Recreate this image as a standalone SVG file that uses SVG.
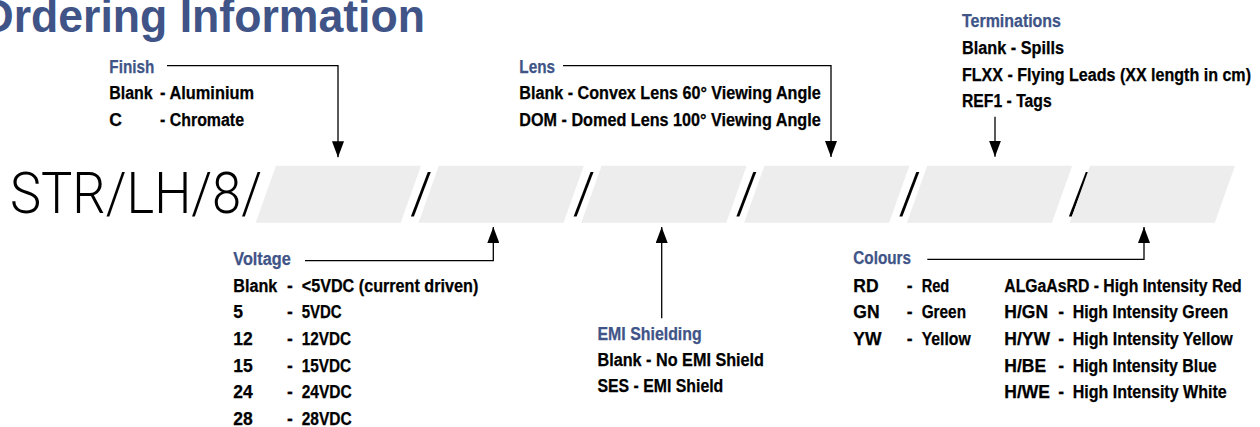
<svg xmlns="http://www.w3.org/2000/svg" width="1260" height="427" viewBox="0 0 1260 427">
<defs>
<style>
.t{font-family:"Liberation Sans",Arial,sans-serif;font-weight:bold;font-size:17.5px;fill:#000;stroke:#000;stroke-width:0.25}
.h{font-family:"Liberation Sans",Arial,sans-serif;font-weight:bold;font-size:17.5px;fill:#405487;stroke:#405487;stroke-width:0.25}
.title{font-family:"Liberation Sans",Arial,sans-serif;font-weight:bold;font-size:47px;fill:#405487}
.code{font-family:Roboto,"Liberation Sans",Arial,sans-serif;font-weight:300;font-size:57px;fill:#000}
.box{fill:#ededed}
.ln{fill:none;stroke:#000;stroke-width:1.3}
</style>
<marker id="ah" markerUnits="userSpaceOnUse" markerWidth="16" markerHeight="12" refX="16" refY="6" orient="auto">
<path d="M0,0 L16,6 L0,12 z" fill="#000"/>
</marker>
</defs>
<rect width="1260" height="427" fill="#fff"/>
<text class="title" x="-21" y="32" textLength="446" lengthAdjust="spacingAndGlyphs">Ordering Information</text>

<g id="code">
<text class="code" x="10" y="213" textLength="252" lengthAdjust="spacingAndGlyphs">STR/LH/8/</text>
<text class="code" x="410" y="213">/</text>
<text class="code" x="572.8" y="213">/</text>
<text class="code" x="735.6" y="213">/</text>
<text class="code" x="898.4" y="213">/</text>
<text class="code" x="1068" y="213">/</text>
</g>
<g id="slot1"><polygon class="box" points="276,165.7 421,165.7 400.7,222.7 255.7,222.7"/></g>
<g id="slot2"><polygon class="box" points="438.8,165.7 583.8,165.7 563.5,222.7 418.5,222.7"/></g>
<g id="slot3"><polygon class="box" points="601.6,165.7 746.6,165.7 726.3,222.7 581.3,222.7"/></g>
<g id="slot4"><polygon class="box" points="764.4,165.7 909.4,165.7 889.1,222.7 744.1,222.7"/></g>
<g id="slot5"><polygon class="box" points="927.2,165.7 1072.2,165.7 1051.9,222.7 906.9,222.7"/></g>
<g id="slot6"><polygon class="box" points="1090,165.7 1235,165.7 1214.7,222.7 1069.7,222.7"/></g>

<g id="connectors">
<polyline class="ln" points="167,65.7 338,65.7 338,157.3" marker-end="url(#ah)"/>
<polyline class="ln" points="563,65.7 831,65.7 831,157" marker-end="url(#ah)"/>
<polyline class="ln" points="995,116.7 995,156.7" marker-end="url(#ah)"/>
<polyline class="ln" points="305,260.7 493.3,260.7 493.3,227" marker-end="url(#ah)"/>
<polyline class="ln" points="661.7,318.3 661.7,227" marker-end="url(#ah)"/>
<polyline class="ln" points="927.3,259.3 1144,259.3 1144,227" marker-end="url(#ah)"/>
</g>

<g id="finish">
<text class="h" x="109.3" y="72.7" textLength="45" lengthAdjust="spacingAndGlyphs">Finish</text>
<text class="t" x="109.3" y="99.3" textLength="43.4" lengthAdjust="spacingAndGlyphs">Blank</text>
<text class="t" x="160" y="99.3" textLength="94" lengthAdjust="spacingAndGlyphs">- Aluminium</text>
<text class="t" x="109.3" y="126">C</text>
<text class="t" x="160" y="126" textLength="84" lengthAdjust="spacingAndGlyphs">- Chromate</text>
</g>

<g id="lens">
<text class="h" x="519.3" y="72.7" textLength="35.7" lengthAdjust="spacingAndGlyphs">Lens</text>
<text class="t" x="519.3" y="99.3" textLength="301.4" lengthAdjust="spacingAndGlyphs">Blank - Convex Lens 60° Viewing Angle</text>
<text class="t" x="519.3" y="126" textLength="301.4" lengthAdjust="spacingAndGlyphs">DOM - Domed Lens 100° Viewing Angle</text>
</g>

<g id="terminations">
<text class="h" x="962" y="27.3" textLength="99" lengthAdjust="spacingAndGlyphs">Terminations</text>
<text class="t" x="962" y="54" textLength="102" lengthAdjust="spacingAndGlyphs">Blank - Spills</text>
<text class="t" x="962" y="80.7" textLength="289" lengthAdjust="spacingAndGlyphs">FLXX - Flying Leads (XX length in cm)</text>
<text class="t" x="962" y="107.3" textLength="89.7" lengthAdjust="spacingAndGlyphs">REF1 - Tags</text>
</g>

<g id="voltage">
<text class="h" x="233.3" y="265" textLength="57.4" lengthAdjust="spacingAndGlyphs">Voltage</text>
<text class="t" x="233.3" y="291.7" textLength="44" lengthAdjust="spacingAndGlyphs">Blank</text>
<text class="t" x="287" y="291.7">-</text>
<text class="t" x="301.7" y="291.7" textLength="176.6" lengthAdjust="spacingAndGlyphs">&lt;5VDC (current driven)</text>
<text class="t" x="233.3" y="318.3">5</text>
<text class="t" x="287" y="318.3">-</text>
<text class="t" x="301.7" y="318.3" textLength="40" lengthAdjust="spacingAndGlyphs">5VDC</text>
<text class="t" x="233.3" y="345">12</text>
<text class="t" x="287" y="345">-</text>
<text class="t" x="301.7" y="345" textLength="49.3" lengthAdjust="spacingAndGlyphs">12VDC</text>
<text class="t" x="233.3" y="371.7">15</text>
<text class="t" x="287" y="371.7">-</text>
<text class="t" x="301.7" y="371.7" textLength="49.3" lengthAdjust="spacingAndGlyphs">15VDC</text>
<text class="t" x="233.3" y="398.3">24</text>
<text class="t" x="287" y="398.3">-</text>
<text class="t" x="301.7" y="398.3" textLength="50" lengthAdjust="spacingAndGlyphs">24VDC</text>
<text class="t" x="233.3" y="425">28</text>
<text class="t" x="287" y="425">-</text>
<text class="t" x="301.7" y="425" textLength="50" lengthAdjust="spacingAndGlyphs">28VDC</text>
</g>

<g id="emi">
<text class="h" x="597.5" y="339.5" textLength="104.2" lengthAdjust="spacingAndGlyphs">EMI Shielding</text>
<text class="t" x="597.5" y="365.5" textLength="166.5" lengthAdjust="spacingAndGlyphs">Blank - No EMI Shield</text>
<text class="t" x="597.5" y="392" textLength="125.8" lengthAdjust="spacingAndGlyphs">SES - EMI Shield</text>
</g>

<g id="colours">
<text class="h" x="853.3" y="264" textLength="57.7" lengthAdjust="spacingAndGlyphs">Colours</text>
<text class="t" x="853.3" y="291.7">RD</text>
<text class="t" x="906.7" y="291.7">-</text>
<text class="t" x="921.7" y="291.7" textLength="27.6" lengthAdjust="spacingAndGlyphs">Red</text>
<text class="t" x="853.3" y="318.3">GN</text>
<text class="t" x="906.7" y="318.3">-</text>
<text class="t" x="921.7" y="318.3" textLength="44.3" lengthAdjust="spacingAndGlyphs">Green</text>
<text class="t" x="853.3" y="345">YW</text>
<text class="t" x="906.7" y="345">-</text>
<text class="t" x="921.7" y="345" textLength="49" lengthAdjust="spacingAndGlyphs">Yellow</text>
<text class="t" x="1004.3" y="291.7" textLength="237.4" lengthAdjust="spacingAndGlyphs">ALGaAsRD - High Intensity Red</text>
<text class="t" x="1004.3" y="318.3">H/GN</text>
<text class="t" x="1058.3" y="318.3">-</text>
<text class="t" x="1072.7" y="318.3" textLength="155.6" lengthAdjust="spacingAndGlyphs">High Intensity Green</text>
<text class="t" x="1004.3" y="345">H/YW</text>
<text class="t" x="1058.3" y="345">-</text>
<text class="t" x="1072.7" y="345" textLength="160" lengthAdjust="spacingAndGlyphs">High Intensity Yellow</text>
<text class="t" x="1004.3" y="371.7">H/BE</text>
<text class="t" x="1058.3" y="371.7">-</text>
<text class="t" x="1072.7" y="371.7" textLength="144" lengthAdjust="spacingAndGlyphs">High Intensity Blue</text>
<text class="t" x="1004.3" y="398.3">H/WE</text>
<text class="t" x="1058.3" y="398.3">-</text>
<text class="t" x="1072.7" y="398.3" textLength="154" lengthAdjust="spacingAndGlyphs">High Intensity White</text>
</g>
</svg>
